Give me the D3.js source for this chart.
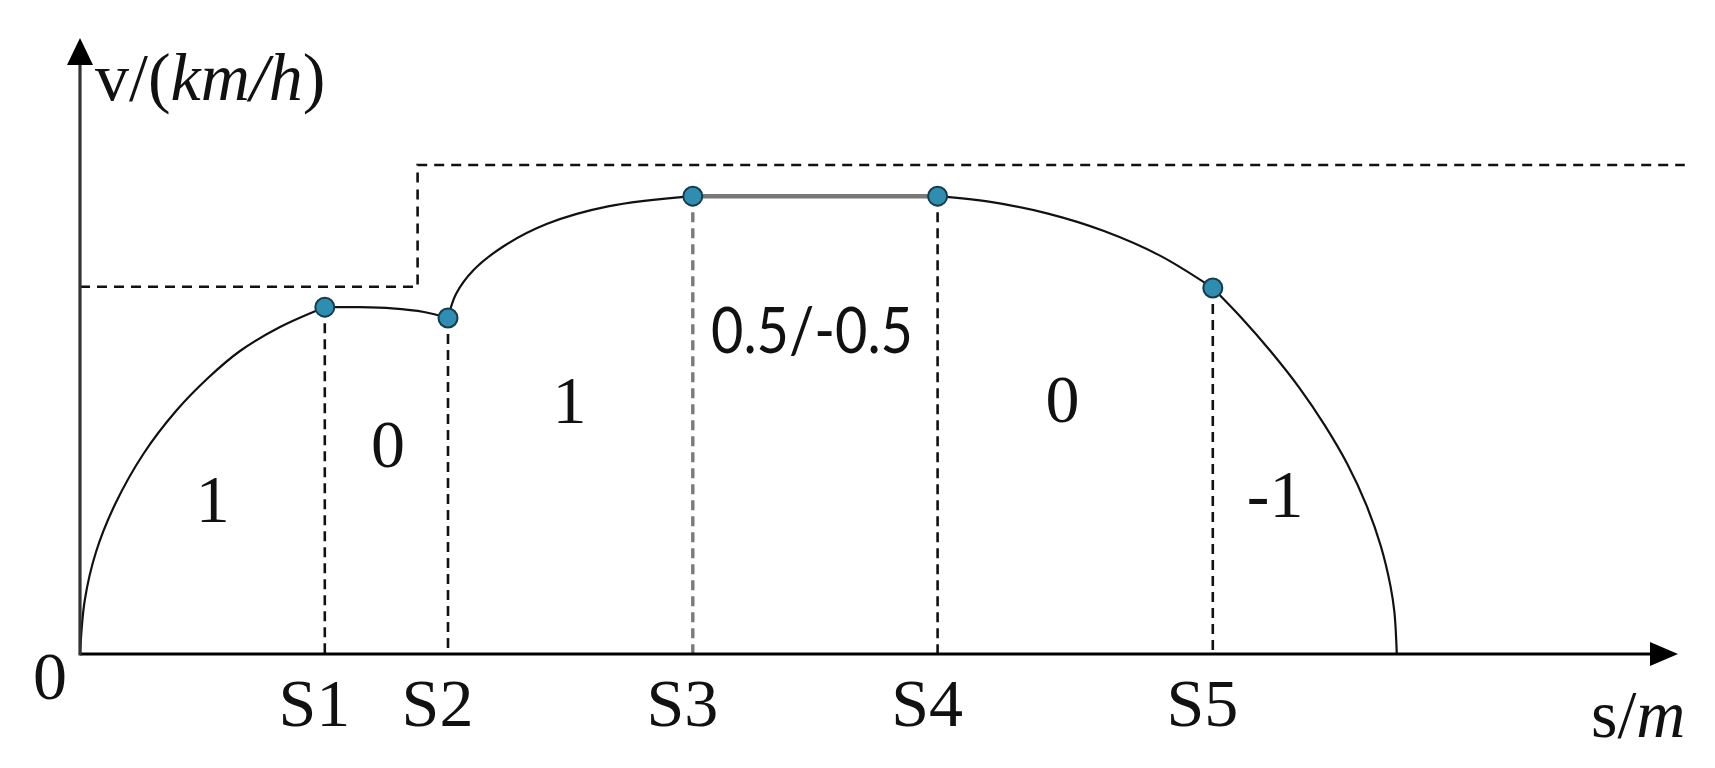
<!DOCTYPE html>
<html>
<head>
<meta charset="utf-8">
<script src="https://cdn.jsdelivr.net/npm/d3@7"></script>
<style>
  body { margin: 0; background: #fff; }
  svg { display: block; }
</style>
</head>
<body>
<svg id="speedChart" width="1715" height="768"></svg>
<script>
// distance marks (s) and speeds (v), arbitrary units
const sMarks = [15.3, 23.0, 38.3, 53.6, 70.8];
const vMarks = [57.8, 56.0, 76.3, 76.3, 61.0];
const sLabels = ["S1", "S2", "S3", "S4", "S5"];

// curve pieces between the marks
const tract1S = [0, 0.3, 1.0, 2.2, 4.0, 6.0, 8.0, 10.0, 12.5, 15.3];
const tract1V = [0, 9, 17, 25, 33.5, 40.5, 46.0, 50.5, 54.5, 57.8];
const coast1S = [15.3, 17.5, 19.5, 21.5, 23.0];
const coast1V = [57.8, 57.8, 57.6, 57.0, 56.0];
const tract2S = [23.0, 23.5, 24.6, 26.5, 29.2, 33.0, 38.3];
const tract2V = [56.0, 60.0, 64.0, 68.0, 71.7, 74.6, 76.3];
const cruiseS = [38.3, 53.6];
const cruiseV = [76.3, 76.3];
const coast2S = [53.6, 57.0, 60.5, 64.0, 67.5, 70.8];
const coast2V = [76.3, 75.3, 73.4, 70.5, 66.4, 61.0];
const brakeS = [70.8, 72.6, 74.4, 76.2, 77.8, 79.2, 80.4, 81.3, 81.9, 82.15, 82.3];
const brakeV = [61.0, 56.0, 50.5, 44.4, 38.1, 31.7, 24.8, 18.0, 11.4, 7.0, 0];

// speed limit
const limitS = [0, 21.1, 21.1, 100.3];
const limitV = [61.2, 61.2, 81.5, 81.5];

// working-condition labels per section
const phaseLabels = ["1", "0", "1", "0.5/-0.5", "0", "-1"];
const phaseS = [8.3, 19.25, 30.6, 45.75, 61.4, 74.7];
const phaseV = [22.0, 31.2, 38.5, 50.2, 38.7, 22.8];

const svg = d3.select("#speedChart");
const serif = "'Liberation Serif', 'Times New Roman', serif";

const x = d3.scaleLinear().domain([0, 100]).range([80, 1680]);
const y = d3.scaleLinear().domain([0, 100]).range([654, 54]);

const zip = (a, b) => a.map((d, i) => [d, b[i]]);

const line = d3.line()
  .x(d => x(d[0]))
  .y(d => y(d[1]))
  .curve(d3.curveCatmullRom.alpha(0.5));

const straight = d3.line()
  .x(d => x(d[0]))
  .y(d => y(d[1]));

// speed limit (dashed step)
svg.append("path")
  .attr("d", straight(zip(limitS, limitV)))
  .attr("fill", "none")
  .attr("stroke", "#111")
  .attr("stroke-width", 2.6)
  .attr("stroke-dasharray", "10,7");

// vertical guides
svg.selectAll("line.guide")
  .data(sMarks)
  .enter()
  .append("line")
  .attr("class", "guide")
  .attr("x1", d => x(d))
  .attr("x2", d => x(d))
  .attr("y1", (d, i) => y(vMarks[i]))
  .attr("y2", y(0))
  .attr("stroke", (d, i) => i === 2 ? "#7a7a7a" : "#111")
  .attr("stroke-width", (d, i) => i === 2 ? 3.4 : 2.6)
  .attr("stroke-dasharray", "10,6");

// speed curve
const pieces = [
  zip(tract1S, tract1V),
  zip(coast1S, coast1V),
  zip(tract2S, tract2V),
  zip(coast2S, coast2V),
  zip(brakeS, brakeV)
];

svg.selectAll("path.curve")
  .data(pieces)
  .enter()
  .append("path")
  .attr("class", "curve")
  .attr("d", line)
  .attr("fill", "none")
  .attr("stroke", "#111")
  .attr("stroke-width", 2.2);

// cruising part is drawn thicker and grey
svg.append("path")
  .attr("d", straight(zip(cruiseS, cruiseV)))
  .attr("fill", "none")
  .attr("stroke", "#787878")
  .attr("stroke-width", 4.5);

// axes
const x0 = x(0), y0 = y(0);
svg.append("line")
  .attr("x1", x0).attr("y1", y0)
  .attr("x2", 1652).attr("y2", y0)
  .attr("stroke", "#000")
  .attr("stroke-width", 3);
svg.append("path")
  .attr("d", `M1650,${y0 - 12}L1678,${y0}L1650,${y0 + 12}Z`)
  .attr("fill", "#000");

svg.append("line")
  .attr("x1", x0).attr("y1", y0 + 1.5)
  .attr("x2", x0).attr("y2", 63)
  .attr("stroke", "#333")
  .attr("stroke-width", 3.2);
svg.append("path")
  .attr("d", `M${x0 - 13},65L${x0},38L${x0 + 13},65Z`)
  .attr("fill", "#000");

// S tick labels
const xAxis = svg.append("g")
  .attr("transform", `translate(0,${y0})`)
  .call(d3.axisBottom(x)
    .tickValues(sMarks)
    .tickFormat((d, i) => sLabels[i])
    .tickSize(0)
    .tickPadding(24));

xAxis.select(".domain").remove();
xAxis.selectAll("text")
  .attr("dx", -11)
  .style("font-family", serif)
  .style("font-size", "68px")
  .attr("fill", "#111");

// origin
svg.append("text")
  .attr("x", 50)
  .attr("y", 699)
  .attr("text-anchor", "middle")
  .style("font-family", serif)
  .style("font-size", "68px")
  .attr("fill", "#111")
  .text("0");

// axis titles
const yTitle = svg.append("text")
  .attr("x", 95)
  .attr("y", 100)
  .style("font-family", serif)
  .style("font-size", "68px")
  .attr("fill", "#111");
yTitle.append("tspan").text("v/(");
yTitle.append("tspan").style("font-style", "italic").text("km/h");
yTitle.append("tspan").text(")");

const xTitle = svg.append("text")
  .attr("x", 1591)
  .attr("y", 737)
  .style("font-family", serif)
  .style("font-size", "68px")
  .attr("fill", "#111");
xTitle.append("tspan").text("s/");
xTitle.append("tspan").style("font-style", "italic").text("m");

// working-condition labels
svg.selectAll("text.phase")
  .data(phaseLabels)
  .enter()
  .append("text")
  .attr("class", "phase")
  .attr("x", (d, i) => x(phaseS[i]))
  .attr("y", (d, i) => y(phaseV[i]))
  .attr("text-anchor", "middle")
  .style("font-family", d => d.includes(".") ? "Lato, 'Open Sans', sans-serif" : serif)
  .style("font-size", d => d.includes(".") ? "63px" : "68px")
  .attr("textLength", d => d.includes(".") ? 202 : null)
  .attr("lengthAdjust", "spacingAndGlyphs")
  .attr("fill", "#111")
  .text(d => d);

// switch points
svg.selectAll("circle")
  .data(sMarks)
  .enter()
  .append("circle")
  .attr("cx", d => x(d))
  .attr("cy", (d, i) => y(vMarks[i]))
  .attr("r", 9.5)
  .attr("fill", "#2e8db0")
  .attr("stroke", "#163c4c")
  .attr("stroke-width", 2);
</script>
</body>
</html>
